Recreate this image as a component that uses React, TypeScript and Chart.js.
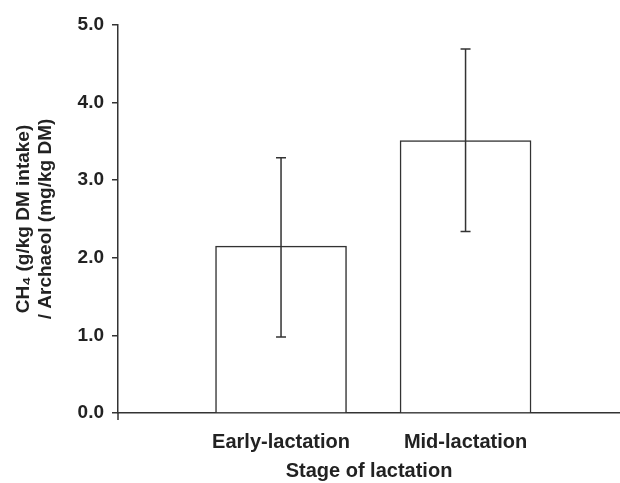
import React, { useEffect, useRef } from "react";
import { Chart, registerables } from "chart.js";

Chart.register(...registerables);

const categories = ["Early-lactation", "Mid-lactation"];
const means = [2.15, 3.51];
const errLow = [0.98, 2.34];
const errHigh = [3.29, 4.69];
const yTicks = [0, 1, 2, 3, 4, 5];
const yTitle = ["CH\u2084 (g/kg DM intake)", "/ Archaeol (mg/kg DM)"];
const xTitle = "Stage of lactation";

const FONT = "'Liberation Sans', Arial, sans-serif";
const INK = "#222";
const LINE = "#333";

const errorBarPlugin = {
  id: "errorBars",
  afterDatasetsDraw(chart: any) {
    const { ctx, scales } = chart;
    const xs = scales.x;
    const ys = scales.y;
    ctx.save();
    ctx.strokeStyle = LINE;
    ctx.lineWidth = 1.5;
    categories.forEach((_, i) => {
      const x = xs.getPixelForValue(i + 1);
      const yl = ys.getPixelForValue(errLow[i]);
      const yh = ys.getPixelForValue(errHigh[i]);
      ctx.beginPath();
      ctx.moveTo(x, yl);
      ctx.lineTo(x, yh);
      ctx.moveTo(x - 5, yl);
      ctx.lineTo(x + 5, yl);
      ctx.moveTo(x - 5, yh);
      ctx.lineTo(x + 5, yh);
      ctx.stroke();
    });
    const left = chart.chartArea.left;
    const bottom = chart.chartArea.bottom;
    ctx.beginPath();
    ctx.moveTo(left, bottom);
    ctx.lineTo(left, bottom + 7);
    ctx.stroke();
    ctx.restore();
  },
};

export default function App() {
  const ref = useRef<HTMLCanvasElement>(null);
  useEffect(() => {
    document.body.style.margin = "0";
    const chart = new Chart(ref.current as HTMLCanvasElement, {
      type: "bar",
      data: {
        datasets: [
          {
            data: categories.map((_, i) => ({ x: i + 1, y: means[i] })),
            backgroundColor: "#ffffff",
            borderColor: LINE,
            borderWidth: 1.5,
            borderSkipped: "bottom",
            barThickness: 131,
          } as any,
        ],
      },
      options: {
        animation: false,
        responsive: false,
        maintainAspectRatio: false,
        layout: { padding: { top: 25, right: 0, bottom: 0, left: 0 } },
        plugins: { legend: { display: false }, tooltip: { enabled: false } },
        scales: {
          x: {
            type: "linear",
            offset: false,
            min: 0.1165,
            max: 2.837,
            afterBuildTicks: (scale: any) => {
              scale.ticks = categories.map((_, i) => ({ value: i + 1 }));
            },
            afterFit: (scale: any) => {
              scale.height = 70;
            },
            grid: { display: false, drawTicks: false, offset: false },
            border: { display: true, color: LINE, width: 1.5 },
            ticks: {
              autoSkip: false,
              maxRotation: 0,
              padding: 17,
              color: INK,
              font: { family: FONT, size: 20, weight: "bold" },
              callback: (v: any) => categories[Number(v) - 1] ?? "",
            },
            title: {
              display: true,
              text: xTitle,
              color: INK,
              font: { family: FONT, size: 20, weight: "bold" },
              padding: { top: 4, bottom: 0 },
            },
          },
          y: {
            min: 0,
            max: 5,
            afterBuildTicks: (scale: any) => {
              scale.ticks = yTicks.map((v) => ({ value: v }));
            },
            afterFit: (scale: any) => {
              scale.width = 118;
            },
            grid: {
              display: true,
              drawOnChartArea: false,
              drawTicks: true,
              tickLength: 6,
              color: LINE,
              lineWidth: 1.5,
            },
            border: { display: true, color: LINE, width: 1.5 },
            ticks: {
              padding: 8,
              color: INK,
              font: { family: FONT, size: 19, weight: "bold" },
              callback: (v: any) => Number(v).toFixed(1),
            },
            title: {
              display: true,
              text: yTitle,
              color: INK,
              font: { family: FONT, size: 19, weight: "bold", lineHeight: 1.15 },
              padding: { top: 13, bottom: 0 },
            },
          },
        },
      },
      plugins: [errorBarPlugin],
    });
    return () => chart.destroy();
  }, []);
  return (
    <div style={{ width: 620, height: 483 }}>
      <canvas ref={ref} width={620} height={483} style={{ display: "block" }} />
    </div>
  );
}
